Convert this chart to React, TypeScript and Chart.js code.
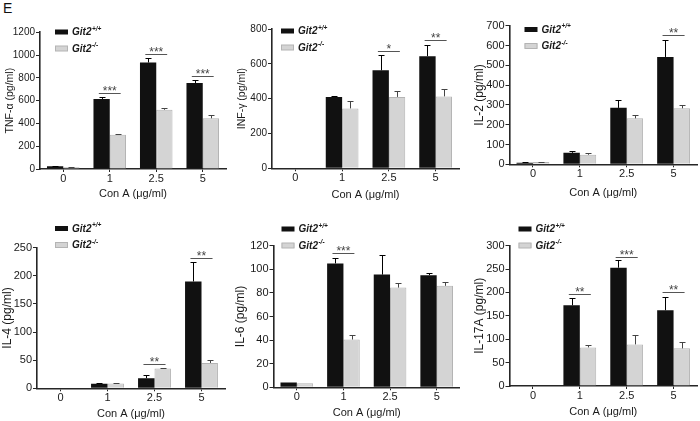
import React, { useEffect, useRef } from 'react';
import { Chart, registerables } from 'chart.js';

Chart.register(...registerables);
Chart.defaults.font.family = '"Liberation Sans", Arial, sans-serif';

// ---------- data ----------
const categories = ['0', '1', '2.5', '5'];
const xAxisTitle = 'Con A (\u03bcg/ml)';
const seriesBase = ['Git2', 'Git2'];
const seriesSup = ['+/+', '-/-'];

// TNF-α
const tnfWT = [25, 615, 935, 755];
const tnfWTErr = [5, 15, 42, 25];
const tnfKO = [15, 300, 520, 445];
const tnfKOErr = [4, 5, 15, 27];
const tnfSigIdx = [1, 2, 3];
const tnfSigVal = [668, 1013, 815];
const tnfSigTxt = ['***', '***', '***'];

// INF-γ
const ifnWT = [0, 410, 563, 644];
const ifnWTErr = [0, 8, 85, 64];
const ifnKO = [0, 344, 410, 413];
const ifnKOErr = [0, 40, 36, 45];
const ifnSigIdx = [2, 3];
const ifnSigVal = [673, 734];
const ifnSigTxt = ['*', '**'];

// IL-2
const il2WT = [8, 58, 285, 542];
const il2WTErr = [2, 8, 40, 84];
const il2KO = [11, 48, 232, 283];
const il2KOErr = [2, 10, 16, 18];
const il2SigIdx = [3];
const il2SigVal = [653];
const il2SigTxt = ['**'];

// IL-4
const il4WT = [0, 8, 18, 190];
const il4WTErr = [0, 1.5, 5, 34];
const il4KO = [0, 8.5, 35, 45];
const il4KOErr = [0, 1, 1.5, 5];
const il4SigIdx = [2, 3];
const il4SigVal = [44, 232];
const il4SigTxt = ['**', '**'];

// IL-6
const il6WT = [4, 105, 95.5, 95];
const il6WTErr = [0, 5, 17, 1.5];
const il6KO = [3.5, 40.5, 84.5, 86];
const il6KOErr = [0, 3.5, 4, 3];
const il6SigIdx = [1];
const il6SigVal = [113.6];
const il6SigTxt = ['***'];

// IL-17A
const il17WT = [0, 172.5, 253, 162];
const il17WTErr = [0, 16, 16, 28];
const il17KO = [0, 82.5, 89, 80.5];
const il17KOErr = [0, 5, 21, 13];
const il17SigIdx = [1, 2, 3];
const il17SigVal = [197, 275, 201];
const il17SigTxt = ['**', '***', '**'];

// y axis ranges
const yTitles = ['TNF-\u03b1 (pg/ml)', 'INF-\u03b3 (pg/ml)', 'IL-2 (pg/ml)', 'IL-4 (pg/ml)', 'IL-6 (pg/ml)', 'IL-17A (pg/ml)'];
const yMax = [1200, 800, 700, 250, 120, 300];
const yStep = [200, 200, 100, 50, 20, 50];

// ---------- layout (pixel geometry, separate from data) ----------
type Layout = {
  left: number; top: number; w: number; h: number;
  axisX: number; right: number; yTop: number; yZero: number;
  yTitleX: number; xTitleY: number; legendDX: number; legendY: number;
  tickFs: number; yTitleFs: number;
};
const layouts: Layout[] = [
  { left: 0, top: 0, w: 230, h: 210, axisX: 40, right: 226, yTop: 32.3, yZero: 169, yTitleX: 10, xTitleY: 194, legendDX: 15, legendY: 32, tickFs: 10, yTitleFs: 10.5 },
  { left: 230, top: 0, w: 230, h: 210, axisX: 272, right: 459, yTop: 29, yZero: 168.3, yTitleX: 242, xTitleY: 195, legendDX: 9, legendY: 31, tickFs: 10, yTitleFs: 10.5 },
  { left: 460, top: 0, w: 240, h: 210, axisX: 509.5, right: 697, yTop: 25.7, yZero: 164.3, yTitleX: 480, xTitleY: 192.7, legendDX: 15, legendY: 29.5, tickFs: 11, yTitleFs: 12 },
  { left: 0, top: 210, w: 230, h: 211, axisX: 37, right: 225, yTop: 247.7, yZero: 388.3, yTitleX: 8, xTitleY: 414, legendDX: 18, legendY: 228.5, tickFs: 11, yTitleFs: 12 },
  { left: 230, top: 210, w: 230, h: 211, axisX: 273.5, right: 460, yTop: 245.7, yZero: 387.3, yTitleX: 241, xTitleY: 413.3, legendDX: 8, legendY: 229, tickFs: 11, yTitleFs: 12 },
  { left: 460, top: 210, w: 240, h: 211, axisX: 509.5, right: 697, yTop: 245.7, yZero: 386, yTitleX: 480, xTitleY: 411.7, legendDX: 9, legendY: 229, tickFs: 11, yTitleFs: 12 },
];

type PanelData = {
  wt: number[]; wtErr: number[]; ko: number[]; koErr: number[];
  sigIdx: number[]; sigVal: number[]; sigTxt: string[];
};
const panels: PanelData[] = [
  { wt: tnfWT, wtErr: tnfWTErr, ko: tnfKO, koErr: tnfKOErr, sigIdx: tnfSigIdx, sigVal: tnfSigVal, sigTxt: tnfSigTxt },
  { wt: ifnWT, wtErr: ifnWTErr, ko: ifnKO, koErr: ifnKOErr, sigIdx: ifnSigIdx, sigVal: ifnSigVal, sigTxt: ifnSigTxt },
  { wt: il2WT, wtErr: il2WTErr, ko: il2KO, koErr: il2KOErr, sigIdx: il2SigIdx, sigVal: il2SigVal, sigTxt: il2SigTxt },
  { wt: il4WT, wtErr: il4WTErr, ko: il4KO, koErr: il4KOErr, sigIdx: il4SigIdx, sigVal: il4SigVal, sigTxt: il4SigTxt },
  { wt: il6WT, wtErr: il6WTErr, ko: il6KO, koErr: il6KOErr, sigIdx: il6SigIdx, sigVal: il6SigVal, sigTxt: il6SigTxt },
  { wt: il17WT, wtErr: il17WTErr, ko: il17KO, koErr: il17KOErr, sigIdx: il17SigIdx, sigVal: il17SigVal, sigTxt: il17SigTxt },
];

const BLACK = '#111111';
const GRAY = '#d4d4d4';
const GRAY_EDGE = '#b4b4b4';
const AXIS = '#262626';
const TEXT = '#1a1a1a';
const FONT = '"Liberation Sans", Arial, sans-serif';

function makeExtras(d: PanelData, L: Layout, key: number) {
  return {
    id: 'extras' + key,
    afterDatasetsDraw(chart: any) {
      const ctx = chart.ctx as CanvasRenderingContext2D;
      const xs = chart.scales.x;
      const ys = chart.scales.y;
      const vals = [d.wt, d.ko];
      const errs = [d.wtErr, d.koErr];
      ctx.save();
      // error bars (upper only)
      for (let di = 0; di < 2; di++) {
        const meta = chart.getDatasetMeta(di);
        meta.data.forEach((bar: any, i: number) => {
          const e = errs[di][i];
          if (!e) return;
          const y0 = ys.getPixelForValue(vals[di][i]);
          const y1 = Math.round(ys.getPixelForValue(vals[di][i] + e)) + 0.5;
          const bx = Math.round(bar.x) + 0.5;
          ctx.strokeStyle = di === 0 ? '#000' : '#444';
          ctx.lineWidth = 1;
          ctx.beginPath();
          ctx.moveTo(bx, y0);
          ctx.lineTo(bx, y1);
          ctx.moveTo(bx - 3, y1);
          ctx.lineTo(bx + 3, y1);
          ctx.stroke();
        });
      }
      // significance markers
      const catW = xs.width / categories.length;
      d.sigIdx.forEach((ci, k) => {
        const cx = xs.getPixelForValue(ci);
        const y = Math.round(ys.getPixelForValue(d.sigVal[k])) + 0.5;
        ctx.strokeStyle = '#555';
        ctx.lineWidth = 1;
        ctx.beginPath();
        ctx.moveTo(cx - 0.235 * catW, y);
        ctx.lineTo(cx + 0.235 * catW, y);
        ctx.stroke();
        ctx.fillStyle = '#444';
        ctx.font = '12px ' + FONT;
        ctx.textAlign = 'center';
        ctx.textBaseline = 'alphabetic';
        ctx.fillText(d.sigTxt[k], cx, y + 1.5);
      });
      // legend
      const x0 = chart.chartArea.left + L.legendDX;
      for (let k = 0; k < 2; k++) {
        const yc = L.legendY - L.top + k * 16.5;
        ctx.fillStyle = k === 0 ? BLACK : GRAY;
        ctx.fillRect(x0, yc - 2.5, 13, 5);
        if (k === 1) {
          ctx.strokeStyle = GRAY_EDGE;
          ctx.lineWidth = 1;
          ctx.strokeRect(x0 + 0.5, yc - 2.5, 12, 5);
        }
        ctx.fillStyle = TEXT;
        ctx.textAlign = 'left';
        ctx.textBaseline = 'middle';
        ctx.font = 'italic bold 10px ' + FONT;
        ctx.fillText(seriesBase[k], x0 + 17, yc + 0.5);
        const w = ctx.measureText(seriesBase[k]).width;
        ctx.font = 'italic bold 6.5px ' + FONT;
        ctx.fillText(seriesSup[k], x0 + 17 + w + 0.5, yc - 3);
      }
      ctx.restore();
    },
  };
}

function Panel({ idx }: { idx: number }) {
  const ref = useRef<HTMLCanvasElement | null>(null);
  const L = layouts[idx];
  const d = panels[idx];
  useEffect(() => {
    if (!ref.current) return;
    const xTitleFs = 11;
    const chart = new Chart(ref.current, {
      type: 'bar',
      data: {
        labels: categories,
        datasets: [
          { label: seriesBase[0] + seriesSup[0], data: d.wt, backgroundColor: BLACK, borderColor: '#000', borderWidth: 0, categoryPercentage: 0.7, barPercentage: 1 },
          { label: seriesBase[1] + seriesSup[1], data: d.ko, backgroundColor: GRAY, borderColor: GRAY_EDGE, borderWidth: 1, categoryPercentage: 0.7, barPercentage: 1 },
        ],
      },
      options: {
        animation: false,
        responsive: false,
        devicePixelRatio: 1,
        layout: {
          padding: { left: 0, top: L.yTop - L.top, right: L.left + L.w - L.right, bottom: 0 },
        },
        plugins: { legend: { display: false }, tooltip: { enabled: false } },
        scales: {
          x: {
            type: 'category',
            offset: true,
            grid: { display: true, drawOnChartArea: false, drawTicks: true, tickLength: 3, color: AXIS, lineWidth: 1, offset: false },
            border: { display: true, color: AXIS, width: 1.6 },
            ticks: { color: TEXT, font: { size: 11 }, padding: 0, maxRotation: 0 },
            title: { display: true, text: xAxisTitle, color: TEXT, font: { size: xTitleFs }, padding: { top: 0, bottom: L.top + L.h - L.xTitleY - xTitleFs * 0.6 } },
            afterFit: (s: any) => { s.height = L.top + L.h - L.yZero; },
          },
          y: {
            min: 0,
            max: yMax[idx],
            grid: { display: true, drawOnChartArea: false, drawTicks: true, tickLength: 4, color: AXIS, lineWidth: 1 },
            border: { display: true, color: AXIS, width: 1.6 },
            ticks: { stepSize: yStep[idx], color: TEXT, font: { size: L.tickFs }, padding: 1, callback: (v: any) => String(v) },
            title: { display: true, text: yTitles[idx], color: TEXT, font: { size: L.yTitleFs }, padding: { top: L.yTitleX - L.left - L.yTitleFs * 0.6, bottom: 0 } },
            afterFit: (s: any) => { s.width = L.axisX - L.left; },
          },
        },
      },
      plugins: [makeExtras(d, L, idx)],
    } as any);
    return () => chart.destroy();
  }, [idx]);
  return (
    <canvas
      ref={ref}
      width={L.w}
      height={L.h}
      style={{ position: 'absolute', left: L.left, top: L.top, width: L.w, height: L.h }}
    />
  );
}

export default function App() {
  return (
    <div style={{ position: 'fixed', left: 0, top: 0, width: 700, height: 421, background: '#fff', overflow: 'hidden' }}>
      <div style={{ position: 'absolute', left: 3, top: 0, fontFamily: FONT, fontSize: 14, lineHeight: '16px', color: '#111' }}>E</div>
      {layouts.map((_, i) => <Panel key={i} idx={i} />)}
    </div>
  );
}
